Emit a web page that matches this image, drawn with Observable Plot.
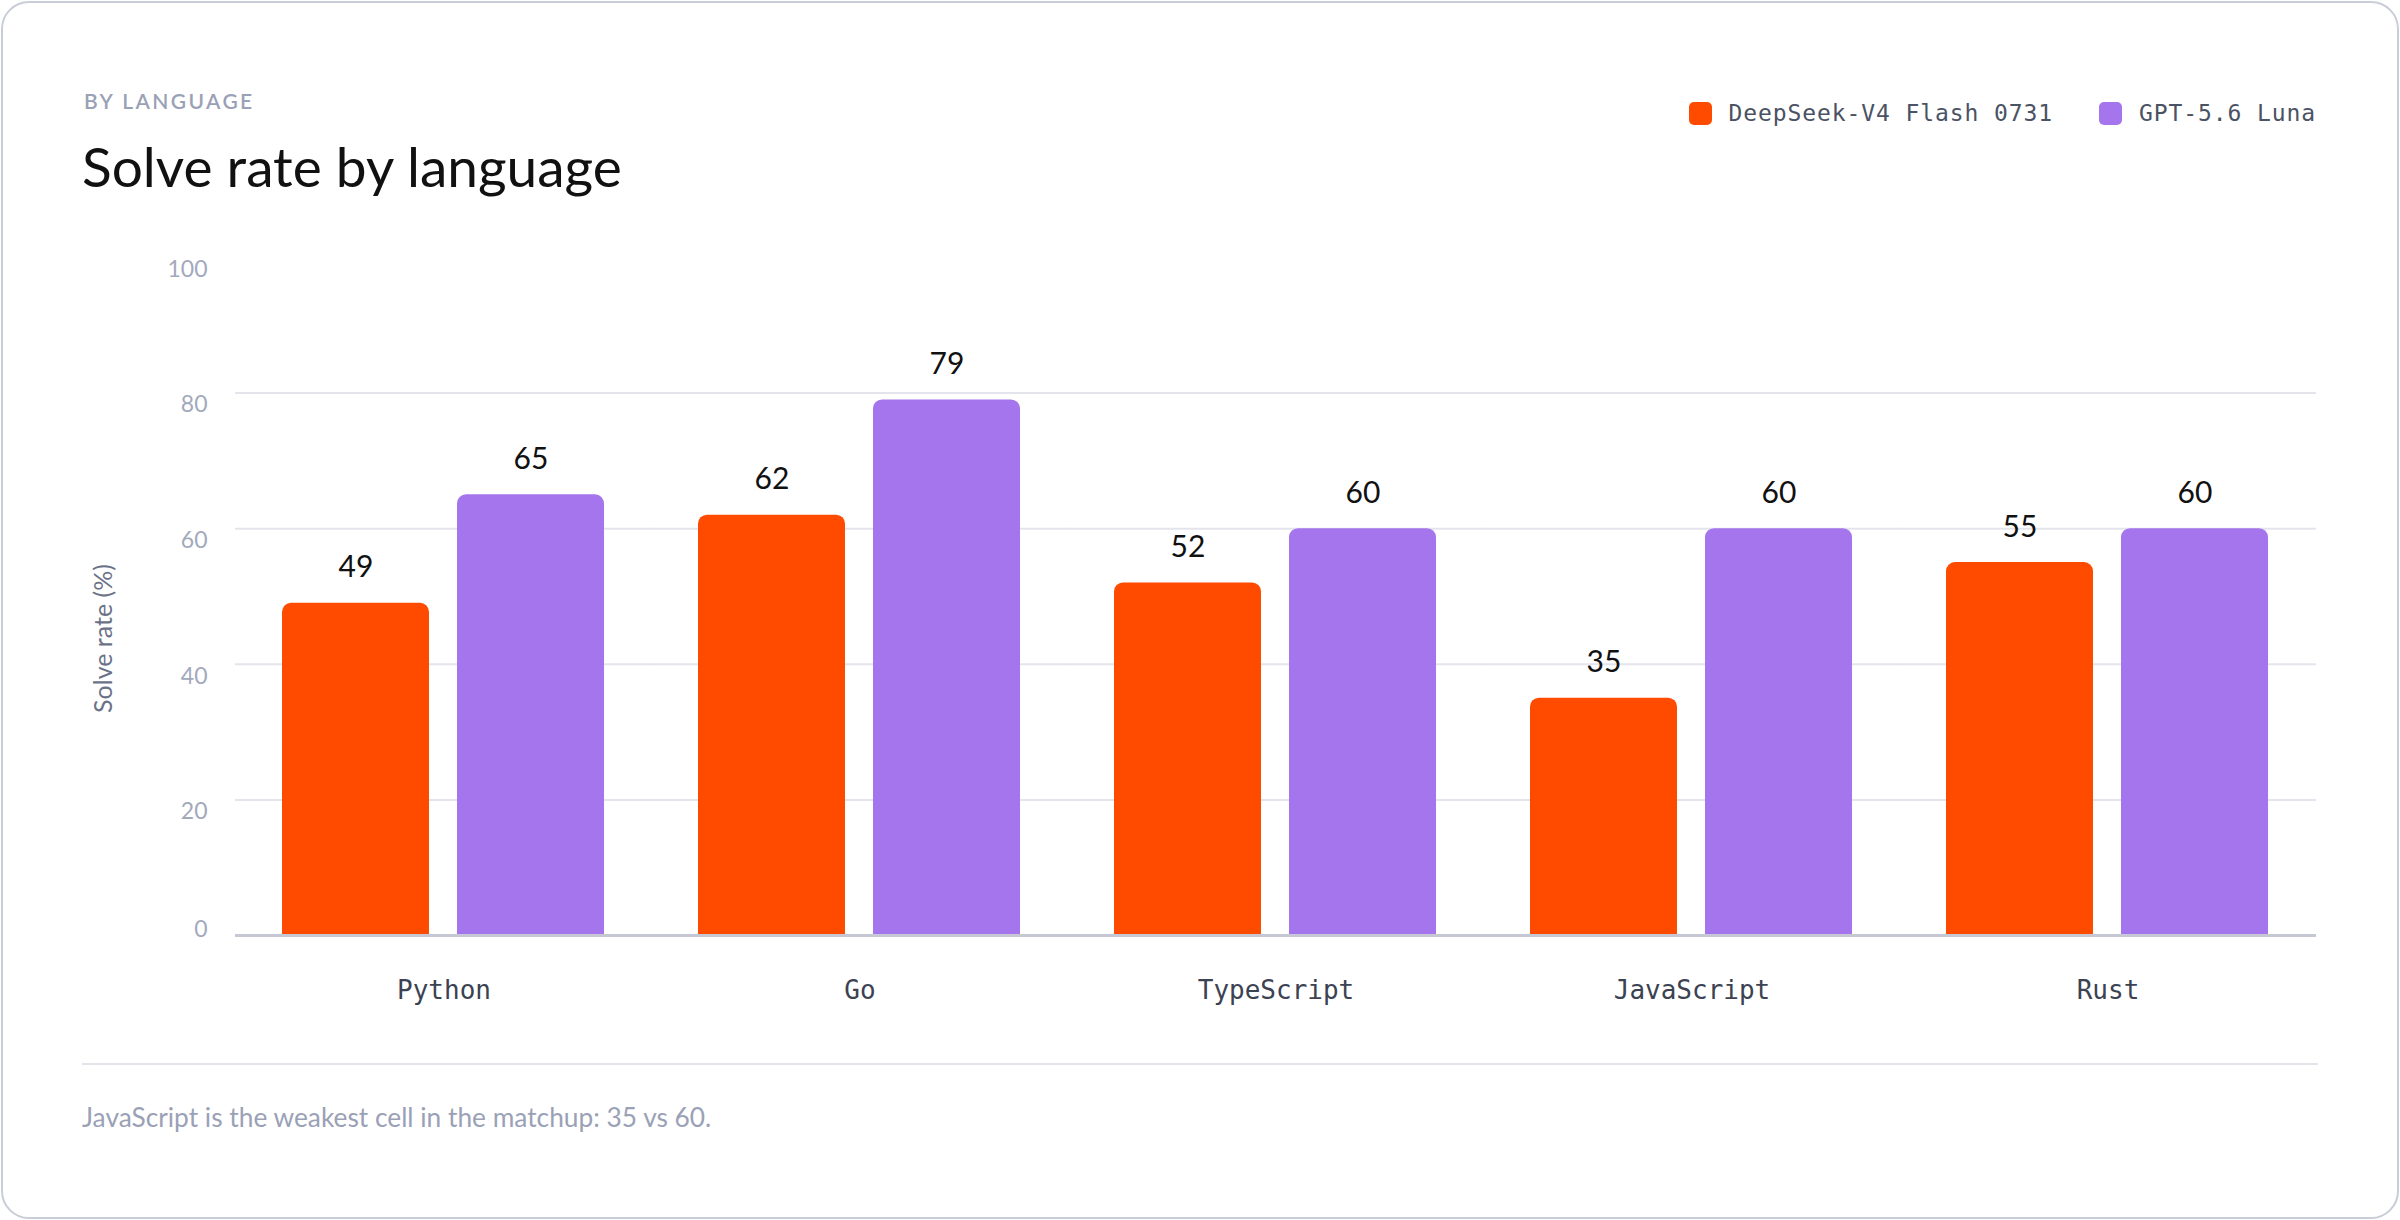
<!DOCTYPE html>
<html>
<head>
<meta charset="utf-8">
<script src="https://cdn.jsdelivr.net/npm/d3@7"></script>
<script src="https://cdn.jsdelivr.net/npm/@observablehq/plot@0.6"></script>
<style>
  html, body { margin: 0; padding: 0; background: #ffffff; }
  body { width: 2400px; height: 1220px; position: relative; overflow: hidden; font-family: Lato, "Noto Sans", sans-serif; }
  .card { position: absolute; left: 1px; top: 1px; width: 2398px; height: 1218px; box-sizing: border-box; border: 2px solid #c9cdd8; border-radius: 28px; background: #fff; }
  .kicker { position: absolute; left: 84px; top: 90px; font-size: 21px; line-height: 1; letter-spacing: 2.4px; color: #9aa1b6; font-weight: 600; }
  .title { position: absolute; left: 82px; top: 139px; font-size: 55px; line-height: 1; color: #111; font-weight: 400; }
  .legend { position: absolute; right: 84px; top: 102px; height: 23px; display: flex; align-items: center; gap: 46px; }
  .legend .item { display: flex; align-items: center; gap: 17px; }
  .legend .sw { width: 23px; height: 23px; border-radius: 5px; }
  .legend .lb { font-family: "DejaVu Sans Mono", monospace; font-size: 23px; letter-spacing: 0.9px; color: #4a5263; line-height: 1; }
  #chart { position: absolute; left: 0; top: 0; }
  .divider { position: absolute; left: 82px; top: 1063px; width: 2236px; height: 2px; background: #e3e5eb; }
  .caption { position: absolute; left: 82px; top: 1104px; font-size: 26.3px; line-height: 1; color: #9aa1b6; }
</style>
</head>
<body>
<div class="card"></div>
<div id="chart"></div>
<div class="kicker">BY LANGUAGE</div>
<div class="title">Solve rate by language</div>
<div class="legend" id="legend"></div>
<div class="divider"></div>
<div class="caption">JavaScript is the weakest cell in the matchup: 35 vs 60.</div>
<script>
const languages = ["Python", "Go", "TypeScript", "JavaScript", "Rust"];
const models = ["DeepSeek-V4 Flash 0731", "GPT-5.6 Luna"];
const deepseekValues = [49, 62, 52, 35, 55];
const gptValues = [65, 79, 60, 60, 60];
const modelColors = ["#FF4B00", "#A475EC"];
const yTicksUpper = [20, 40, 60, 80, 100];
const yTickZero = [0];
const gridTicks = [20, 40, 60, 80];
const yTitle = ["Solve rate (%)"];

const rows = [];
languages.forEach((lang, i) => {
  rows.push({language: lang, model: models[0], value: deepseekValues[i]});
  rows.push({language: lang, model: models[1], value: gptValues[i]});
});

const legend = document.getElementById("legend");
models.forEach((m, i) => {
  const item = document.createElement("div");
  item.className = "item";
  const sw = document.createElement("div");
  sw.className = "sw";
  sw.style.background = modelColors[i];
  const lb = document.createElement("div");
  lb.className = "lb";
  lb.textContent = m;
  item.appendChild(sw);
  item.appendChild(lb);
  legend.appendChild(item);
});

// each facet's rules are widened by half the gap so that they meet across facets
const gapHalf = -47;
const plot = Plot.plot({
  width: 2400,
  height: 1040,
  marginTop: 257,
  marginBottom: 105,
  marginLeft: 234,
  marginRight: 82,
  style: {fontFamily: "Lato, 'Noto Sans', sans-serif", background: "transparent"},
  fx: {domain: languages, paddingInner: 0.2226, paddingOuter: 0.1113, label: null, axis: null},
  x: {domain: models, paddingInner: 0.159, paddingOuter: 0, axis: null},
  y: {domain: [0, 100], axis: null},
  color: {domain: models, range: modelColors},
  marks: [
    Plot.ruleY(gridTicks, {stroke: "#e4e5ec", strokeWidth: 2, insetLeft: gapHalf, insetRight: gapHalf}),
    Plot.barY(rows, {fx: "language", x: "model", y: "value", fill: "model", ry1: 9}),
    Plot.ruleY([0], {stroke: "#c6c9d5", strokeWidth: 3, insetLeft: gapHalf, insetRight: gapHalf}),
    Plot.text(rows, {fx: "language", x: "model", y: "value", text: d => String(d.value), lineAnchor: "bottom", dy: -26, fontSize: 30, fill: "#111"}),
    Plot.axisY({ticks: yTicksUpper, tickSize: 0, tickPadding: 75, dy: 12, fontSize: 23, color: "#a3a9bc", label: null}),
    Plot.axisY({ticks: yTickZero, tickSize: 0, tickPadding: 75, dy: -6, fontSize: 23, color: "#a3a9bc", label: null}),
    Plot.text(yTitle, {facet: "super", frameAnchor: "left", textAnchor: "middle", lineAnchor: "middle", rotate: -90, dx: -179, dy: 42, fontSize: 25, fill: "#6b7287"}),
    Plot.axisFx({anchor: "bottom", tickSize: 0, tickPadding: 45, fontSize: 26, fontFamily: "DejaVu Sans Mono, monospace", color: "#3b4252", label: null})
  ]
});
document.getElementById("chart").appendChild(plot);
</script>
</body>
</html>
